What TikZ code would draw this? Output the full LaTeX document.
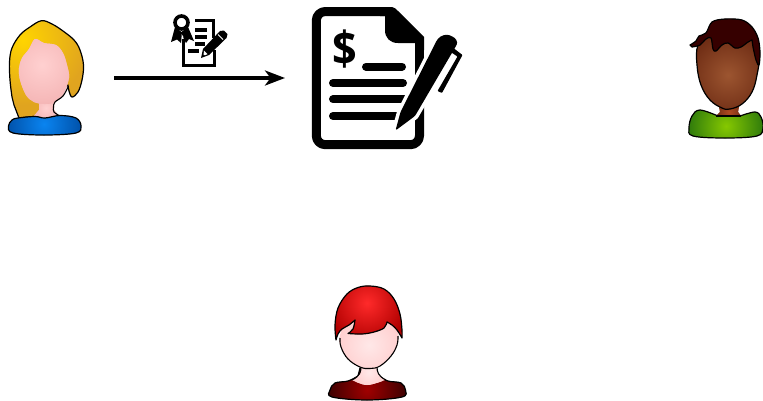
\documentclass[tikz,border=0pt]{standalone}
\usepackage{fontspec}
\setmainfont{Liberation Sans}
\newfontfamily\dollarfont{Open Sans}
\usetikzlibrary{arrows.meta}
\newcommand{\blob}[6][1.2pt]{%
  \fill[#6] #2;
  \begin{scope}\clip #2;
    \shade[inner color=#5,outer color=#6] (#3) circle[radius=#4pt];
  \end{scope}
  \draw[black,line width=#1,line join=round] #2;
}
\newcommand{\softblob}[5]{%
  \fill[#5] #1;
  \begin{scope}\clip #1;
    \shade[inner color=#4,outer color=#5] (#2) circle[radius=#3pt];
  \end{scope}
}
\definecolor{hairA}{HTML}{FFD400}\definecolor{hairB}{HTML}{E0A41F}
\definecolor{skinA}{HTML}{FFD0D0}\definecolor{skinB}{HTML}{F4B4B4}
\definecolor{blueA}{HTML}{0A84F0}\definecolor{blueB}{HTML}{0050A8}
\definecolor{brownA}{HTML}{9C5530}\definecolor{brownB}{HTML}{6E2C14}
\definecolor{neckBr}{HTML}{B04A20}
\definecolor{darkhair}{HTML}{360000}
\definecolor{greenA}{HTML}{86C800}\definecolor{greenB}{HTML}{2E7A0C}
\definecolor{redA}{HTML}{FF2A2A}\definecolor{redB}{HTML}{B00000}
\definecolor{paleA}{HTML}{FFE8E8}\definecolor{paleB}{HTML}{FFD0D0}
\definecolor{maroonA}{HTML}{A00000}\definecolor{maroonB}{HTML}{400000}
\tikzset{
  iconline/.style={line width=#1,line cap=round,black},
  flow/.style={line width=3.4pt,black,-{Stealth[length=20pt,width=15pt,inset=5.5pt]}},
  thin outline/.style={black,line width=1.1pt},
}
\begin{document}
\begin{tikzpicture}[x=1pt,y=-1pt]
\useasboundingbox (0,0) rectangle (763,400);
% ---------- blonde person
\blob{(14,105) -- plot[smooth,tension=.6] coordinates {(12,97) (10,80) (9.5,62) (12,48) (20,35) (30,27) (41.5,20.7) (52,24) (63,31) (74,40) (80,50) (83.5,65) (82,80) (78,92) (72,97) (69,91) (68,85)} -- (50,100) -- (38,116) -- (19,118) -- cycle}{23,40}{65}{hairA}{hairB}
\softblob{(39,100) -- (39,110) -- (33,117) -- (60,117) -- (54,110) -- (54,100) -- cycle}{46,108}{14}{skinA}{skinB}
\softblob{plot[smooth cycle,tension=.55] coordinates {(35,39) (44,43) (56,45) (63,53) (67,65) (69,78) (63,95) (55,102) (45,104) (34,102) (26,95) (20,80) (19,68) (22,58) (29,49)}}{42,65}{42}{skinA}{skinB}
\draw[thin outline] plot[smooth,tension=.6] coordinates {(68.5,86) (63,96) (55,102) (53.5,107) (54,112) (60,116)};
\blob{plot[smooth cycle,tension=.6] coordinates {(18,118) (35,116.5) (45,118) (60,115.5) (76,118) (81,126) (76,133) (44,135) (13,133) (8.5,126) (12,120)}}{44,124}{38}{blueA}{blueB}
% ---------- certificate icon above the arrow
\draw[iconline=3.6pt,line cap=butt] (195,20.5) -- (213.5,20.5) -- (213.5,38);
\draw[iconline=3.6pt,line cap=butt] (183.5,39) -- (183.5,65.5) -- (214.5,65.5) -- (214.5,50);
\draw[iconline=3.6pt,line cap=butt] (195,30) -- (207,30);
\draw[iconline=3.6pt,line cap=butt] (195,37) -- (207,37);
\draw[iconline=3.6pt,line cap=butt] (195,44) -- (205,44);
\draw[iconline=3.6pt,line cap=butt] (188,51) -- (199,51);
\draw[black,line width=3.6pt] (181.5,22.5) circle[radius=6.5pt];
\fill[black] (175,27) -- (171,42) -- (177,39.5) -- (181,43) -- (182,35) -- (186,43) -- (189,39) -- (194,41) -- (188,27) -- (181.5,32) -- cycle;
\fill[white] (181.5,34) -- (183.5,37) -- (181.5,39) -- cycle;
\fill[black] (201,58) -- (203,49) -- (220,31) -- (224,30.5) -- (227.5,34) -- (226.5,38) -- (209,55) -- cycle;
\fill[white] (204,50.5) -- (207.5,54) -- (205.5,55) -- (203.5,55) -- cycle;
\draw[white,line width=.8pt] (218,34.5) -- (223,39.5);
% ---------- arrow
\coordinate (from) at (114,78);
\coordinate (to) at (285,78);
\draw[flow] (from) -- (to);
% ---------- contract icon
\draw[black,line width=9pt,line join=round]
  (419.5,80) -- (419.5,42);
\draw[black,line width=9pt,line join=round,rounded corners=9pt]
  (388,11.5) -- (316.3,11.5) -- (316.3,144.7) -- (419.5,144.7) -- (419.5,95);
\fill[black] (380,7) -- (392,7) .. controls (394,7) and (396,9) .. (398,11) -- (424,37) -- (424,50) -- (415,50) -- (415,43) -- (398,43) .. controls (390,43) and (385,38) .. (385,30) -- (385,16) -- (380,16) -- cycle;
\draw[iconline=8pt] (366,66.7) -- (402,66.7);
\draw[iconline=8pt] (333,83) -- (403,83);
\draw[iconline=8pt] (333,99.3) -- (405,99.3);
\draw[iconline=8pt] (333,116) -- (400,116);
\node[font=\dollarfont\bfseries\fontsize{47}{47}\selectfont,inner sep=0pt,text=black,xscale=.92] (dollar) at (345,49) {\$};
\path[draw=white,line width=7pt,fill=white,line join=round]
  (395.5,130) -- (400.5,112) -- (437,40) .. controls (441,35) and (447,34) .. (451,36) .. controls (456,38) and (458,42) .. (456,46) -- (415,116) -- cycle;
\fill[black,rounded corners=1.5pt]
  (395.5,130.5) -- (400.5,112) -- (437,40) .. controls (441,35) and (447,34) .. (451,36) .. controls (456,38) and (458,42) .. (456,46) -- (415,116) -- cycle;
\fill[black,rounded corners=.8pt] (452,47) -- (462.5,55) -- (442,93) -- (437.5,91) -- (457.5,56.5) -- (451.5,52.5) -- cycle;
% ---------- brown person
\blob{(718,116) -- plot[smooth,tension=.6] coordinates {(718,116) (700,110) (692,116) (689,128) (693,136) (725,138) (757,136) (763,128) (761,117) (755,112) (740,116)} -- cycle}{726,126}{38}{greenA}{greenB}
\softblob{(718,100) -- (720,112) -- (716,116) -- (741,116) -- (738,112) -- (740,100) -- cycle}{729,112}{14}{neckBr}{brownB}
\draw[thin outline] (716,116) -- (741,116);
\blob{plot[smooth cycle,tension=.65] coordinates {(698,45) (697,65) (701,85) (710,100) (722,108) (730,109) (742,104) (752,92) (757,75) (759,55) (752,35) (730,25) (710,30)}}{728,75}{42}{brownA}{brownB}
\blob{(690,45) -- plot[smooth,tension=.55] coordinates {(690,45) (696,41) (699,36) (706,33) (712,22) (725,19) (742,20) (752,27) (758,38) (760,52) (759,65) (756,60) (753,47)} -- plot[smooth,tension=.6] coordinates {(752,40) (748,42) (741,47) (735,48) (728,43) (722,45) (716,51) (713,49) (711,38) (706,39) (700,45) (692,47)} -- cycle}{720,30}{40}{darkhair}{darkhair}
% ---------- red person
\blob{(360,368) -- plot[smooth,tension=.6] coordinates {(358,376) (348,381) (335,383) (330,390) (332,397) (367,400) (402,397) (405.5,390) (401,383) (388,381) (378,376)} -- cycle}{367,390}{38}{maroonA}{maroonB}
\softblob{plot[smooth,tension=.6] coordinates {(361,365) (361,372) (358,376) (352,380)} -- plot[smooth,tension=.6] coordinates {(352,380) (367,385) (385,380)} -- plot[smooth,tension=.6] coordinates {(385,380) (379,376) (377,372) (377,365)} -- cycle}{369,372}{16}{paleA}{paleB}
\draw[thin outline] (361,366) .. controls (361,372) and (360,376) .. (352,380);
\draw[thin outline] (377,366) .. controls (377,372) and (378,376) .. (386,380);
\softblob{plot[smooth cycle,tension=.65] coordinates {(340,335) (341,347) (348,359) (360,367) (370,368.5) (380,366) (391,356) (397,345) (398,332) (390,315) (370,310) (350,315)}}{369,345}{30}{paleA}{paleB}
\draw[thin outline] plot[smooth,tension=.65] coordinates {(340,338) (341,347) (348,359) (360,367) (370,368.5) (380,366) (391,356) (397,345) (398,336)};
\blob{(336,340) -- plot[smooth,tension=.6] coordinates {(336,340) (335,325) (338,308) (347,294) (358,287.5) (370,286) (384,289) (394,299) (400,314) (402,330) (402,338)} -- plot[smooth,tension=.6] coordinates {(402,338) (397,330) (392,325) (387,322)} -- plot[smooth,tension=.6] coordinates {(387,322) (384,328) (374,332) (362,334) (348,333.5)} -- plot[smooth,tension=.6] coordinates {(348,333.5) (353,329) (355,320)} -- plot[smooth,tension=.6] coordinates {(355,320) (349,325) (342,329) (338,334) (336,340)} -- cycle}{367,303}{40}{redA}{redB}
\end{tikzpicture}
\end{document}
